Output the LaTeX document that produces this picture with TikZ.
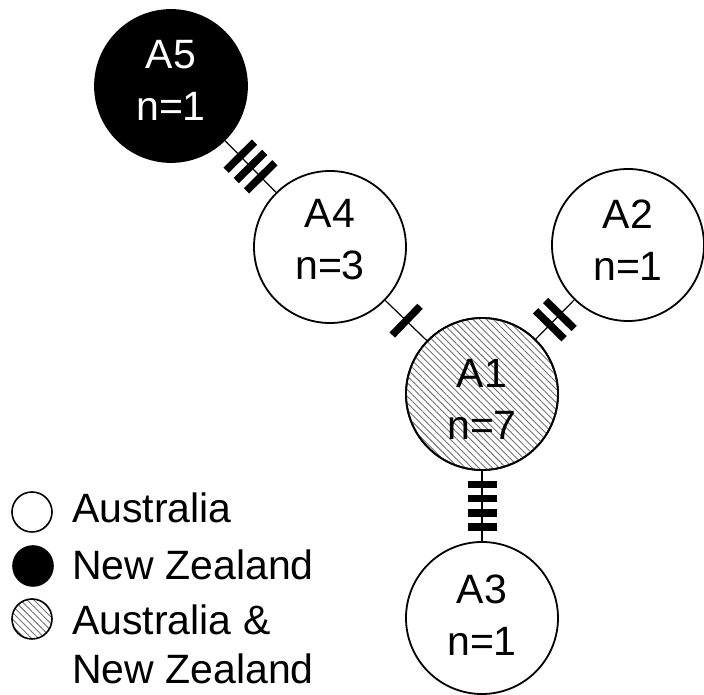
\documentclass[tikz,border=0pt]{standalone}
\usepackage{fontspec}
\setmainfont{Liberation Sans}
\usetikzlibrary{patterns.meta}
\begin{document}
\begin{tikzpicture}[x=1pt,y=1pt,
  hap/.style={circle,draw=black,line width=1.8pt,minimum size=152pt,inner sep=0pt,fill=white},
  hatched/.style={pattern={Lines[angle=-45,distance=4.8pt,line width=0.9pt]},pattern color=black!55},
  nm/.style={font=\fontsize{41}{52}\selectfont,align=center,inner sep=0pt},
  edge/.style={line width=1.2pt},
  bar/.style={sloped,rectangle,fill=black,draw=none,minimum width=7.5pt,minimum height=40pt,inner sep=0pt},
  vbar/.style={bar,minimum height=29pt},
  leg/.style={circle,draw=black,line width=1.6pt,minimum size=40pt,inner sep=0pt},
  legtxt/.style={font=\fontsize{41}{48}\selectfont,anchor=base west,inner sep=0pt}]
\useasboundingbox (0,0) rectangle (704,695);

\coordinate (c5) at (171,609);
\coordinate (c4) at (330,448);
\coordinate (c2) at (628,450);
\coordinate (c1) at (482,301);
\coordinate (c3) at (482,77);

% haplotype circles
\node[hap,fill=black,label={[nm,text=white,yshift=6pt]center:{A5\\n=1}}] (A5) at (c5) {};
\node[hap,label={[nm,yshift=7pt]center:{A4\\n=3}}] (A4) at (c4) {};
\node[hap,label={[nm,yshift=5pt]center:{A2\\n=1}}] (A2) at (c2) {};
\node[hap,label={[nm,yshift=3pt]center:{A3\\n=1}}] (A3) at (c3) {};
\node[hap] (A1bg) at (c1) {};
\node[hap,fill=none,hatched,label={[nm,yshift=-5pt]center:{A1\\n=7}}] (A1) at (c1) {};

% connectors with mutation bars
\draw[edge] (A5) -- (A4)
  node[bar,pos=0.30]{} node[bar,pos=0.50]{} node[bar,pos=0.70]{};
\draw[edge] (A4) -- (A1)
  node[bar,pos=0.50]{};
\draw[edge] (A1) -- (A2)
  node[bar,pos=0.37]{} node[bar,pos=0.63]{};
\draw[edge] (A1) -- (A3)
  node[vbar,pos=0.20]{} node[vbar,pos=0.40]{} node[vbar,pos=0.60]{} node[vbar,pos=0.80]{};

% legend
\node[leg] (L1) at (32,183) {};
\node[leg,fill=black] (L2) at (33,129) {};
\node[leg,hatched] (L3) at (32,76) {};
\node[legtxt] (T1) at (72,172) {Australia};
\node[legtxt] (T2) at (72,115) {New Zealand};
\node[legtxt] (T3) at (72,60) {Australia \&};
\node[legtxt] (T4) at (72,11) {New Zealand};
\end{tikzpicture}
\end{document}
